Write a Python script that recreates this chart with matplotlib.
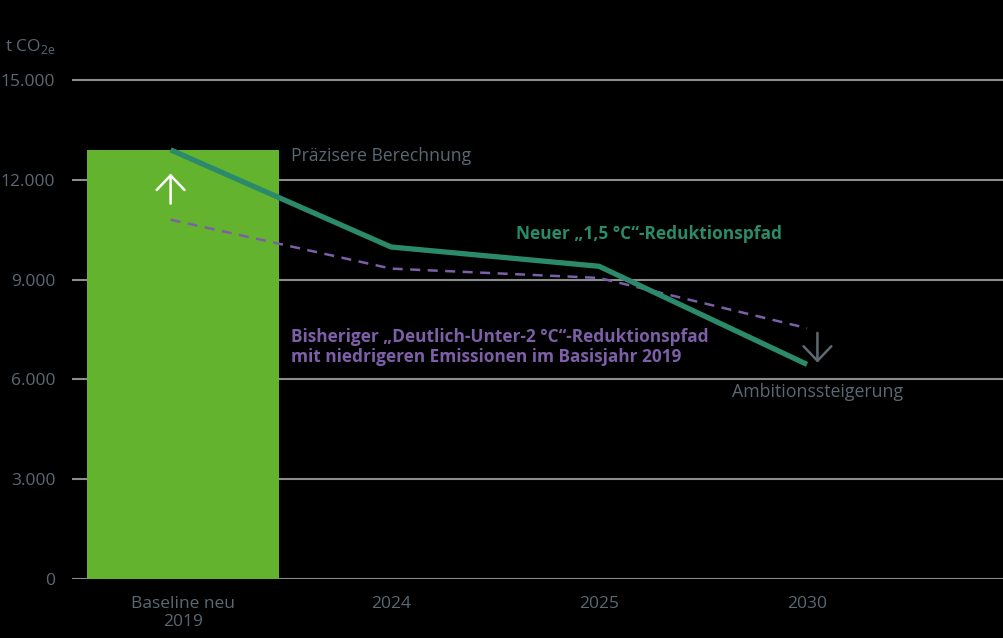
import matplotlib.pyplot as plt

categories = ["Baseline neu\n2019", "2024", "2025", "2030"]
baseline = 12900
line_x = [-0.06, 1, 2, 3]
new_path = [12900, 9980, 9400, 6450]
old_path = [10800, 9330, 9050, 7540]
y_ticks = [0, 3000, 6000, 9000, 12000, 15000]
y_labels = ["0", "3.000", "6.000", "9.000", "12.000", "15.000"]

bg = "black"
grid_col = "#8a8c8e"
text_col = "#5b6873"
bar_col = "#64b32f"
green = "#2b8a6b"
purple = "#7d5fa8"

plt.rcParams['font.family'] = ['Open Sans', 'DejaVu Sans']

fig = plt.figure(figsize=(10.04, 6.38), dpi=100, facecolor=bg)
ax = fig.add_axes([72/1004, (638-579)/638, 1-72/1004, (579-70)/638])
ax.set_facecolor(bg)

ax.bar([0], [baseline], width=0.923, color=bar_col, zorder=2)
ax.plot(line_x, old_path, color=purple, lw=1.8, dashes=(4, 3), zorder=3)
ax.plot(line_x, new_path, color=green, lw=3.8, zorder=4, solid_capstyle='butt')

ax.set_xlim(-0.534, 3.947)
ax.set_ylim(0, 15300)
ax.set_yticks(y_ticks)
ax.set_yticklabels(y_labels)
ax.set_xticks(range(len(categories)))
ax.set_xticklabels(categories, linespacing=1.2)
ax.tick_params(length=0, colors=text_col, labelsize=12.5)
ax.tick_params(axis='y', pad=12)
ax.tick_params(axis='x', pad=12)
ax.yaxis.grid(True, color=grid_col, lw=1.5)
ax.set_axisbelow(True)
for s in ax.spines.values():
    s.set_visible(False)

# arrows
head = "->,head_length=1.05,head_width=1.0"
ax.annotate("", xy=(-0.06, 12270), xytext=(-0.06, 11200),
            arrowprops=dict(arrowstyle=head, color="white", lw=1.8), zorder=5)
ax.annotate("", xy=(3.05, 6420), xytext=(3.05, 7480),
            arrowprops=dict(arrowstyle=head, color="#5e6a72", lw=1.8), zorder=5)

ax.text(0.52, 12700, "Präzisere Berechnung", color=text_col, fontsize=12.7, va='center')
ax.text(1.6, 10370, "Neuer „1,5 °C“-Reduktionspfad", color=green, fontsize=12.5,
        fontweight='bold', va='center')
ax.text(0.52, 7540, "Bisheriger „Deutlich-Unter-2 °C“-Reduktionspfad\nmit niedrigeren Emissionen im Basisjahr 2019",
        color=purple, fontsize=12.4, fontweight='bold', va='top', linespacing=1.1)
ax.text(2.64, 5620, "Ambitionssteigerung", color=text_col, fontsize=12.8, va='center')

fig.text(5/1004, 1-47/638, r"t CO$_{\mathregular{2e}}$", color=text_col, fontsize=12.5, va='center')

fig.savefig("out.png", dpi=100, facecolor=bg)
